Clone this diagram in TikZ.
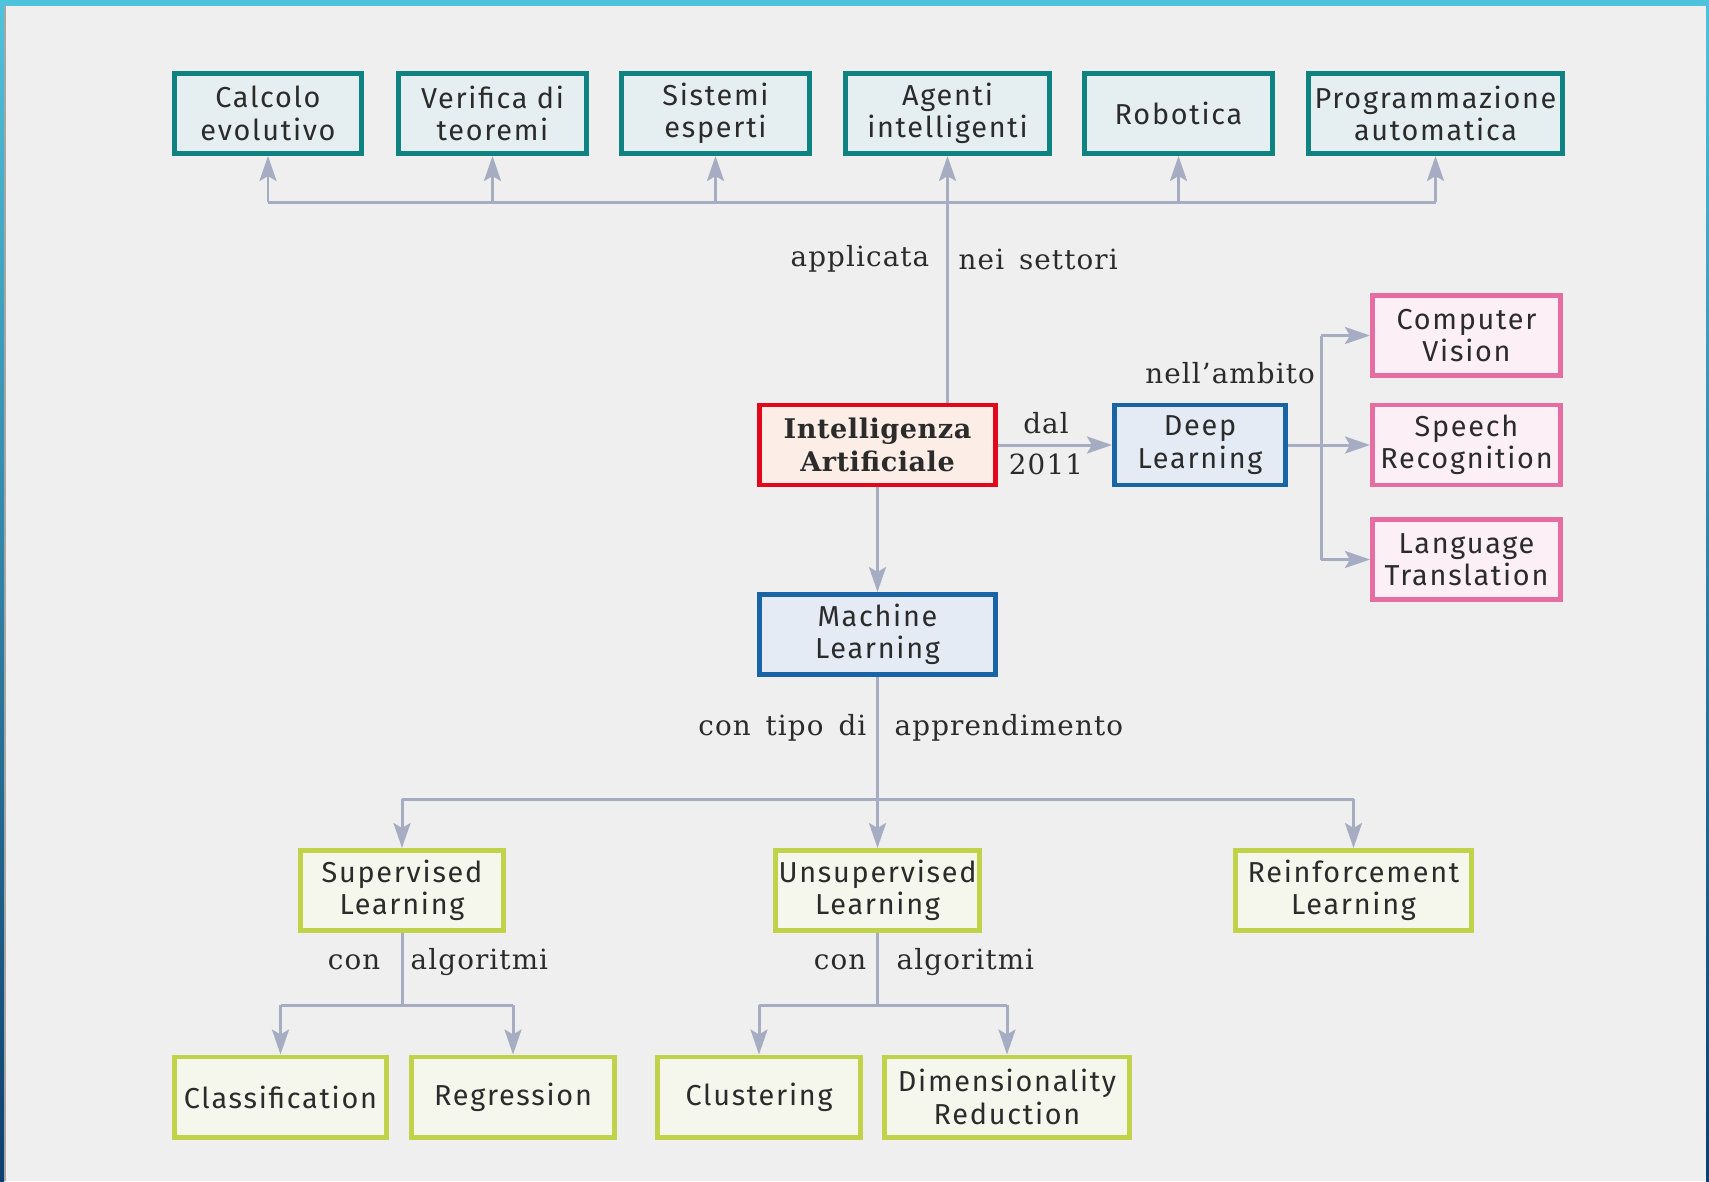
\documentclass[tikz,border=0pt]{standalone}
\usepackage{fontspec}
\setmainfont{Fira Sans}[LetterSpace=6]
\newfontfamily\lblfont{DejaVu Serif}[LetterSpace=4,WordSpace=1.5]
\newfontfamily\aifont{DejaVu Serif}[LetterSpace=2]
\usetikzlibrary{arrows.meta,positioning}
\definecolor{bgcol}{HTML}{EFEFEF}
\definecolor{txtcol}{HTML}{2B2B2B}
\definecolor{linkcol}{HTML}{A6ADC2}
\definecolor{tealdraw}{HTML}{0F8282}
\definecolor{tealfill}{HTML}{E5EFF1}
\definecolor{reddraw}{HTML}{E2071B}
\definecolor{redfill}{HTML}{FCEEE7}
\definecolor{bluedraw}{HTML}{1964A6}
\definecolor{bluefill}{HTML}{E4EBF5}
\definecolor{pinkdraw}{HTML}{E56DA1}
\definecolor{pinkfill}{HTML}{FCEFF5}
\definecolor{greendraw}{HTML}{BFD24A}
\definecolor{greenfill}{HTML}{F5F7EC}
\definecolor{framecyan}{HTML}{4FC3DB}
\definecolor{framenavy}{HTML}{0E3F6E}

\begin{document}
\begin{tikzpicture}[x=0.01cm,y=-0.01cm,
  box/.style={draw,line width=1.4pt,inner sep=0pt,align=center,
              minimum height=0.8cm,text=txtcol,font=\fontsize{8.2}{9.2}\selectfont},
  topbox/.style={box,draw=tealdraw,fill=tealfill},
  aibox/.style={box,draw=reddraw,fill=redfill,font=\aifont\bfseries\fontsize{7.7}{9.2}\selectfont},
  bluebox/.style={box,draw=bluedraw,fill=bluefill},
  pinkbox/.style={box,draw=pinkdraw,fill=pinkfill},
  greenbox/.style={box,draw=greendraw,fill=greenfill},
  lbl/.style={inner sep=0pt,text=txtcol,font=\lblfont\fontsize{7.9}{9.6}\selectfont},
  link/.style={line width=0.85pt,linkcol},
  arrow/.style={link,-{Stealth[length=0.25cm,width=0.17cm,inset=0.05cm]}}]
% background and frame
\fill[bgcol] (0,0) rectangle (1709,1181);
\fill[framecyan] (0,0) rectangle (1709,6);
\shade[top color=framecyan,bottom color=framenavy] (0,0) rectangle (4,1181);
\fill[gray!70] (4,6) rectangle (6,1181);
\shade[top color=framecyan,bottom color=framenavy] (1706,0) rectangle (1709,1181);

% application fields
\node[topbox,minimum width=1.87cm] (cal) at (268,113.5)   {Calcolo\\evolutivo};
\node[topbox,minimum width=1.88cm] (ver) at (492.5,113.5) {Verifica di\\teoremi};
\node[topbox,minimum width=1.88cm] (sis) at (715.5,113.5) {Sistemi\\esperti};
\node[topbox,minimum width=2.04cm] (age) at (947.5,113.5) {Agenti\\intelligenti};
\node[topbox,minimum width=1.88cm] (rob) at (1178.5,113.5) {Robotica};
\node[topbox,minimum width=2.54cm] (pro) at (1435.5,113.5) {Programmazione\\automatica};

% core
\node[aibox,minimum width=2.36cm]   (ai) at (877.5,445) {Intelligenza\\Artificiale};
\node[bluebox,minimum width=1.71cm] (dl) at (1200,445)  {Deep\\Learning};
\node[bluebox,minimum width=2.36cm] (ml) at (877.5,634.5) {Machine\\Learning};

% deep learning fields
\node[pinkbox,minimum width=1.88cm] (cv) at (1466.5,335.5) {Computer\\Vision};
\node[pinkbox,minimum width=1.88cm] (sr) at (1466.5,445)   {Speech\\Recognition};
\node[pinkbox,minimum width=1.88cm] (lt) at (1466.5,559.5) {Language\\Translation};

% learning types
\node[greenbox,minimum width=2.03cm] (sl) at (402,890.5)    {Supervised\\Learning};
\node[greenbox,minimum width=2.04cm] (ul) at (877.5,890.5)  {Unsupervised\\Learning};
\node[greenbox,minimum width=2.36cm] (rl) at (1353.5,890.5) {Reinforcement\\Learning};

% algorithms
\node[greenbox,minimum width=2.12cm] (cla) at (280.5,1097) {Classification};
\node[greenbox,minimum width=2.03cm] (reg) at (513,1097)   {Regression};
\node[greenbox,minimum width=2.03cm] (clu) at (759,1097)   {Clustering};
\node[greenbox,minimum width=2.45cm] (dim) at (1007,1097)  {Dimensionality\\Reduction};

% top bus
\coordinate (topbus) at (945,202);
\draw[link] (cal.south |- topbus) -- (pro.south |- topbus);
\draw[arrow] (cal.south |- topbus) -- (cal.south);
\draw[arrow] (ver.south |- topbus) -- (ver.south);
\draw[arrow] (sis.south |- topbus) -- (sis.south);
\draw[arrow] (ai.north -| age.south) -- (age.south);
\draw[arrow] (rob.south |- topbus) -- (rob.south);
\draw[arrow] (pro.south |- topbus) -- (pro.south);
\node[lbl,anchor=east] (appl) at (930,259) {applicata};
\node[lbl,anchor=west] (nei)  at (958,259) {nei settori};

% deep learning
\draw[arrow] (ai) -- (dl);
\node[lbl] (dal)  at (1046,423) {dal};
\node[lbl] (anno) at (1046,464) {2011};
\coordinate (dlfork) at (1321,445);
\draw[arrow] (dl) -- (sr);
\draw[link] (dlfork |- cv) -- (dlfork |- lt);
\draw[arrow] (dlfork |- cv) -- (cv);
\draw[arrow] (dlfork |- lt) -- (lt);
\node[lbl] (ambito) at (1230,373) {nell’ambito};

% machine learning
\draw[arrow] (ai) -- (ml);
\coordinate (mlbus) at (877.5,799);
\draw[link] (sl.north |- mlbus) -- (rl.north |- mlbus);
\draw[arrow] (ml) -- (ul);
\draw[arrow] (sl.north |- mlbus) -- (sl);
\draw[arrow] (rl.north |- mlbus) -- (rl);
\node[lbl,anchor=east] (tipo) at (867,728) {con tipo di};
\node[lbl,anchor=west] (appr) at (894,728) {apprendimento};

% algorithms
\coordinate (slfork) at (402,1005);
\draw[link] (sl) -- (slfork);
\draw[link] (cla.north |- slfork) -- (reg.north |- slfork);
\draw[arrow] (cla.north |- slfork) -- (cla);
\draw[arrow] (reg.north |- slfork) -- (reg);
\node[lbl,anchor=east] (con1) at (381,962) {con};
\node[lbl,anchor=west] (alg1) at (410,962) {algoritmi};
\coordinate (ulfork) at (877.5,1005);
\draw[link] (ul) -- (ulfork);
\draw[link] (clu.north |- ulfork) -- (dim.north |- ulfork);
\draw[arrow] (clu.north |- ulfork) -- (clu);
\draw[arrow] (dim.north |- ulfork) -- (dim);
\node[lbl,anchor=east] (con2) at (867,962) {con};
\node[lbl,anchor=west] (alg2) at (896,962) {algoritmi};
\end{tikzpicture}
\end{document}
